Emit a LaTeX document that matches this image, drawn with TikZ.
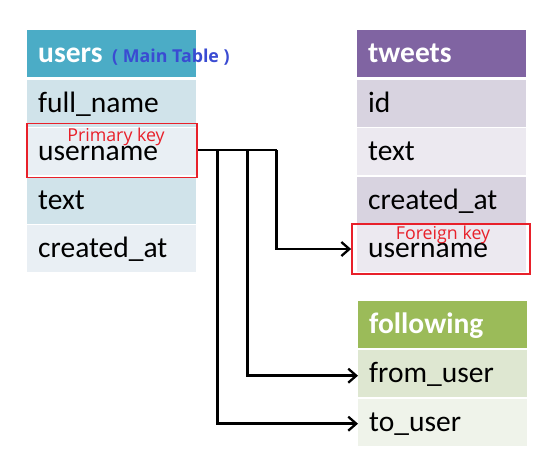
\documentclass[tikz,border=0pt]{standalone}
\usepackage{fontspec}
\setmainfont{Carlito}
\newfontfamily\labelfont{Open Sans}
\usetikzlibrary{arrows.meta}
\definecolor{uhead}{HTML}{4BACC6}
\definecolor{urowA}{HTML}{D0E3EA}
\definecolor{urowB}{HTML}{E9EFF4}
\definecolor{thead}{HTML}{8064A2}
\definecolor{trowA}{HTML}{D8D3E0}
\definecolor{trowB}{HTML}{ECE9F0}
\definecolor{fhead}{HTML}{9BBB59}
\definecolor{frowA}{HTML}{DEE7D1}
\definecolor{frowB}{HTML}{EFF3EA}
\definecolor{keyred}{HTML}{E8202A}
\definecolor{mainblue}{HTML}{3A4BD2}
\tikzset{
  cell/.style={anchor=north west, inner xsep=11pt, inner ysep=0pt,
    text width=147pt, minimum height=47pt, align=left,
    text height=24pt, text depth=6pt,
    font=\fontsize{29.5}{30}\selectfont},
  headcell/.style={cell, text=white, font=\fontsize{29.5}{30}\selectfont\bfseries},
  keybox/.style={draw=keyred, line width=1.8pt, minimum width=170pt, minimum height=54pt, inner sep=0pt},
  keylabel/.style={anchor=base, text=keyred, inner sep=0pt, font=\labelfont\fontsize{17.8}{19}\selectfont},
  conn/.style={line width=2.5pt, -{Straight Barb[length=8pt,width=14pt,line width=2.3pt]}},
  wire/.style={line width=2.5pt}
}
\begin{document}
\begin{tikzpicture}[x=1pt,y=-1pt]
\useasboundingbox (0,0) rectangle (554,466);
% users
\node[headcell, fill=uhead] (uh) at (27,30) {users};
\node[anchor=base west, inner sep=0pt, text=mainblue, font=\labelfont\fontsize{17.8}{19}\selectfont\bfseries] (umain) at (112,62) {( Main Table )};
\node[cell, fill=urowA] (u1) at (27,79.5) {full\_name};
\node[cell, fill=urowB] (u2) at (27,128) {username};
\node[cell, fill=urowA] (u3) at (27,176.5) {text};
\node[cell, fill=urowB] (u4) at (27,225) {created\_at};
% tweets
\node[headcell, fill=thead] (th) at (357,30) {tweets};
\node[cell, fill=trowA] (t1) at (357,79.5) {id};
\node[cell, fill=trowB] (t2) at (357,128) {text};
\node[cell, fill=trowA] (t3) at (357,176.5) {created\_at};
\node[cell, fill=trowB] (t4) at (357,225) {username};
% following
\node[headcell, fill=fhead] (fh) at (358,301) {following};
\node[cell, fill=frowA] (f1) at (358,350) {from\_user};
\node[cell, fill=frowB] (f2) at (358,398.5) {to\_user};
% key boxes
\node[keybox] (pk) at (112,150.5) {};
\node[keylabel] (pkl) at (116,141) {Primary key};
\node[keybox, minimum width=178pt, minimum height=50pt] (fk) at (441,249) {};
\node[keylabel] (fkl) at (443,239.5) {Foreign key};
% connectors
\coordinate (j1) at (217.5,150);
\coordinate (j2) at (247.5,150);
\coordinate (j3) at (276.5,150);
\draw[wire] (pk.east |- j3) -- (j3);
\draw[conn] (j3) |- (fk.west);
\draw[conn] (j2) |- ([yshift=-2pt]f1.west);
\draw[conn] (j1) |- ([yshift=-1.5pt]f2.west);
\end{tikzpicture}
\end{document}
